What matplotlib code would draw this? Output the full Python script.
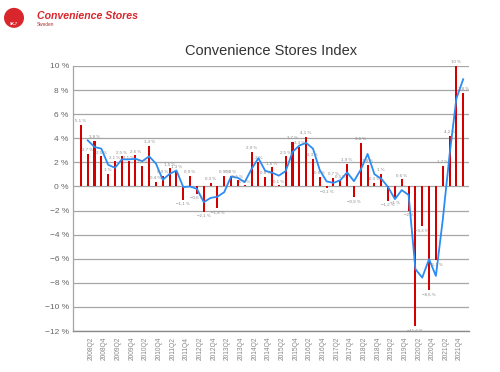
import matplotlib.pyplot as plt
import numpy as np
from matplotlib.patches import Ellipse

# quarterly index change, 2007Q4 .. 2021Q4
index_change = [5.1, 2.7, 3.8, 2.5, 1.0, 2.1, 2.5, 2.1, 2.6, 1.7,
                3.4, 0.4, 0.9, 1.5, 1.3, -1.1, 0.9, -0.6, -2.1, 0.3,
                -1.8, 0.9, 0.9, 0.5, 0.1, 2.9, 2.0, 0.8, 1.6, 0.1,
                2.5, 3.7, 3.3, 4.1, 2.3, 0.8, -0.1, 0.7, 0.5, 1.9,
                -0.9, 3.6, 1.8, 0.3, 1.0, -1.2, -1.0, 0.6, -2.0, -11.6,
                -3.3, -8.6, -6.1, 1.7, 4.2, 10.0, 7.8]

# smoothed trend line, starts at the second quarter
trend = [3.83, 3.28, 3.14, 1.8, 1.55, 2.25, 2.25, 2.3, 2.1, 2.5,
         1.9, 0.55, 1.05, 1.33, -0.05, 0.0, -0.2, -1.3, -0.95, -0.85,
         -0.47, 0.83, 0.72, 0.36, 1.45, 2.35, 1.3, 1.15, 0.9, 1.28,
         2.86, 3.4, 3.62, 3.14, 1.35, 0.42, 0.3, 0.52, 1.17, 0.44,
         1.4, 2.7, 1.02, 0.64, -0.05, -1.05, -0.3, -0.7, -6.86, -7.56,
         -6.03, -7.42, -2.8, 2.6, 7.3, 8.9]

tick_labels = ["2008Q2", "2008Q4", "2009Q2", "2009Q4", "2010Q2", "2010Q4",
               "2011Q2", "2011Q4", "2012Q2", "2012Q4", "2013Q2", "2013Q4",
               "2014Q2", "2014Q4", "2015Q2", "2015Q4", "2016Q2", "2016Q4",
               "2017Q2", "2017Q4", "2018Q2", "2018Q4", "2019Q2", "2019Q4",
               "2020Q2", "2020Q4", "2021Q2", "2021Q4"]

y_ticks = [10, 8, 6, 4, 2, 0, -2, -4, -6, -8, -10, -12]

RED = "#d40000"
BLUE = "#2a8cf4"
GRID = "#a6a6a6"


def pct(v):
    s = f"{abs(v):.1f}".replace(".", ",")
    if s.endswith(",0"):
        s = s[:-2]
    return ("\u2212" if v < 0 else "") + s + " %"


plt.rcParams["font.family"] = ["Liberation Sans", "DejaVu Sans"]

fig = plt.figure(figsize=(5, 3.72), dpi=100)
ax = fig.add_axes([0.146, 0.110, 0.792, 0.7126])

x = np.arange(len(index_change))
ax.bar(x, index_change, width=0.3, color=RED, zorder=2)
ax.plot(x[1:], trend, color=BLUE, lw=1.3, zorder=3)

for xi, v in zip(x, index_change):
    off = 1.5 if v >= 0 else -1.5
    ax.annotate(pct(v), (xi, v), xytext=(0, off), textcoords="offset points",
                ha="center", va="bottom" if v >= 0 else "top",
                fontsize=3.2, color="#888888", zorder=4)

ax.set_xlim(-1.15, len(index_change) - 0.15)
ax.set_ylim(-12, 10)
ax.set_yticks(y_ticks)
ax.set_yticklabels([pct(t) for t in y_ticks], fontsize=6, color="#666666")
ax.set_xticks(x[2::2])
ax.set_xticklabels(tick_labels, rotation=90, fontsize=4.8, color="#888888",
                   ha="right")
ax.tick_params(length=0, pad=3)
ax.tick_params(axis="x", pad=4)

ax.grid(axis="y", color=GRID, lw=0.9, zorder=0)
for s in ["top", "right"]:
    ax.spines[s].set_visible(False)
ax.spines["left"].set_color(GRID)
ax.spines["bottom"].set_color("#8c8c8c")
ax.spines["left"].set_linewidth(0.9)
ax.spines["bottom"].set_linewidth(1.0)

fig.text(0.542, 0.862, "Convenience Stores Index", ha="center", va="center",
         fontsize=10.5, color="#333333")

# logo
logo = Ellipse((0.028, 0.952), 0.04, 0.04 * 500 / 372,
               transform=fig.transFigure, facecolor="#d8262c",
               edgecolor="none")
fig.patches.append(logo)
fig.text(0.028, 0.935, "SK-7", ha="center", va="center", fontsize=2.5,
         color="white", fontweight="bold")
fig.text(0.074, 0.957, "Convenience Stores", ha="left", va="center",
         fontsize=7.6, color="#d8262c", fontweight="bold", style="italic")
fig.text(0.074, 0.933, "Sweden", ha="left", va="center", fontsize=3.4,
         color="#b03030")

fig.savefig("out.png", dpi=100)
